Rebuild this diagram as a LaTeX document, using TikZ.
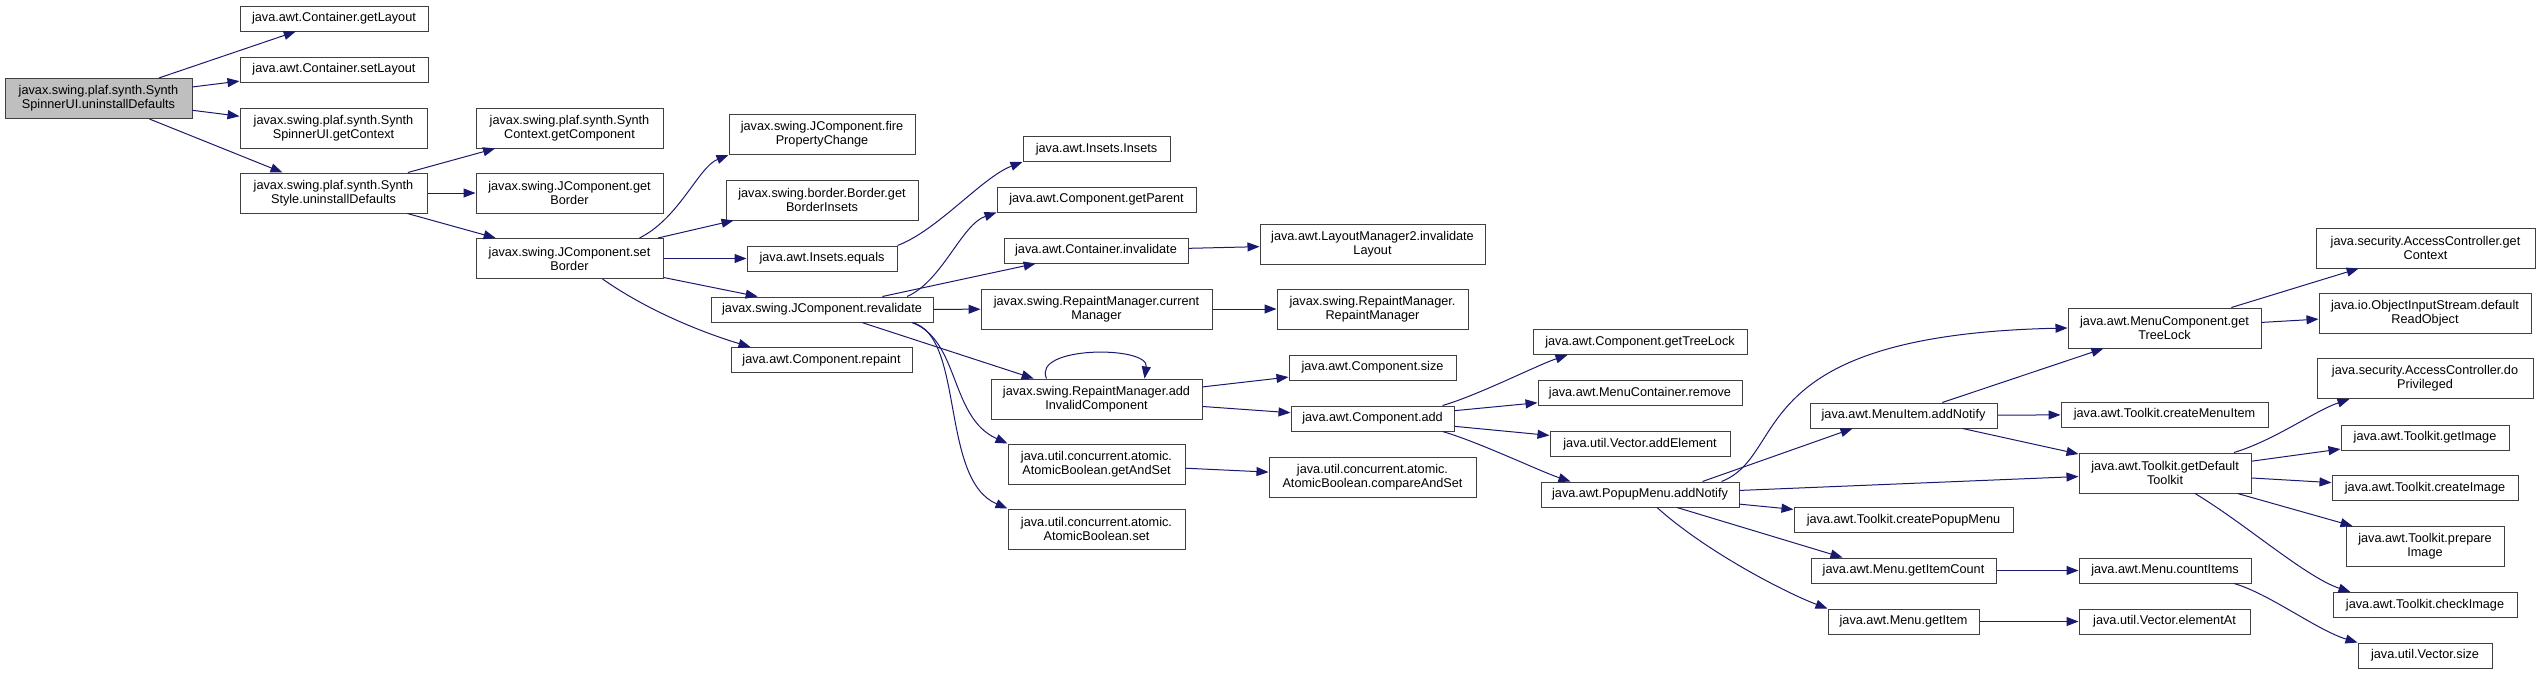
\documentclass[tikz,border=0pt]{standalone}
\usepackage{fontspec}
\setmainfont{Liberation Sans}
\usepackage{tikz}
\usetikzlibrary{arrows.meta}
\definecolor{midnight}{HTML}{191970}
\definecolor{rootgray}{HTML}{BFBFBF}
\tikzset {
  % boxed function style
  fn/.style = {draw=black!75, fill=white, line width=1pt, inner sep=0pt, align=center,
    font=\fontsize{12.7}{14}\selectfont},
  % the function whose calls are drawn
  rootfn/.style = {fn, fill=rootgray},
  % box heights for one or two lines of text
  oneline/.style = {minimum height=25pt},
  twoline/.style = {minimum height=40pt},
  % this is for the calls
  call/.style = {midnight, line width=1pt, -{Triangle[length=12pt,width=9pt]}},
}

\begin{document}
\begin{tikzpicture}[x=1pt, y=-1pt]
      \useasboundingbox (0,0) rectangle (2540,675);

      \node[rootfn, twoline, minimum width=187pt] (root) at (98.5,98.5) {javax.swing.plaf.synth.Synth\\SpinnerUI.uninstallDefaults};

      \node[fn, oneline, minimum width=188pt] (getLayout) at (334,18.5) {java.awt.Container.getLayout};
      \node[fn, oneline, minimum width=188pt] (setLayout) at (334,69.5) {java.awt.Container.setLayout};
      \node[fn, twoline, minimum width=187pt] (getContext) at (333.5,128) {javax.swing.plaf.synth.Synth\\SpinnerUI.getContext};
      \node[fn, twoline, minimum width=187pt] (synthStyle) at (333.5,193) {javax.swing.plaf.synth.Synth\\Style.uninstallDefaults};

      \node[fn, twoline, minimum width=187pt] (getComponent) at (569.5,128) {javax.swing.plaf.synth.Synth\\Context.getComponent};
      \node[fn, twoline, minimum width=187pt] (getBorder) at (569.5,193) {javax.swing.JComponent.get\\Border};
      \node[fn, twoline, minimum width=187pt] (setBorder) at (569.5,258.5) {javax.swing.JComponent.set\\Border};

      \node[fn, twoline, minimum width=186pt] (fireProp) at (822,134.5) {javax.swing.JComponent.fire\\PropertyChange};
      \node[fn, twoline, minimum width=192pt] (borderIns) at (822,200) {javax.swing.border.Border.get\\BorderInsets};
      \node[fn, oneline, minimum width=150pt] (insetsEq) at (822,258.5) {java.awt.Insets.equals};
      \node[fn, oneline, minimum width=222pt] (revalidate) at (822,309.5) {javax.swing.JComponent.revalidate};
      \node[fn, oneline, minimum width=181pt] (repaint) at (821.5,360) {java.awt.Component.repaint};

      \node[fn, oneline, minimum width=147pt] (insetsCtor) at (1096.5,149) {java.awt.Insets.Insets};
      \node[fn, oneline, minimum width=199pt] (getParent) at (1096.5,199.5) {java.awt.Component.getParent};
      \node[fn, oneline, minimum width=184pt] (contInval) at (1096,250.5) {java.awt.Container.invalidate};
      \node[fn, twoline, minimum width=231pt] (curMgr) at (1096.5,309) {javax.swing.RepaintManager.current\\Manager};
      \node[fn, twoline, minimum width=211pt] (addInval) at (1096.5,399) {javax.swing.RepaintManager.add\\InvalidComponent};
      \node[fn, twoline, minimum width=177pt] (getAndSet) at (1096.5,464) {java.util.concurrent.atomic.\\AtomicBoolean.getAndSet};
      \node[fn, twoline, minimum width=177pt] (abSet) at (1096.5,529) {java.util.concurrent.atomic.\\AtomicBoolean.set};

      \node[fn, twoline, minimum width=225pt] (invLayout) at (1372.5,244) {java.awt.LayoutManager2.invalidate\\Layout};
      \node[fn, twoline, minimum width=191pt] (rmCtor) at (1372.5,309) {javax.swing.RepaintManager.\\RepaintManager};
      \node[fn, oneline, minimum width=167pt] (compSize) at (1372.5,367.5) {java.awt.Component.size};
      \node[fn, oneline, minimum width=163pt] (compAdd) at (1372.5,418.5) {java.awt.Component.add};
      \node[fn, twoline, minimum width=207pt] (cmpSet) at (1372.5,477) {java.util.concurrent.atomic.\\AtomicBoolean.compareAndSet};

      \node[fn, oneline, minimum width=214pt] (treeLock) at (1640,342) {java.awt.Component.getTreeLock};
      \node[fn, oneline, minimum width=204pt] (mcRemove) at (1640,393) {java.awt.MenuContainer.remove};
      \node[fn, oneline, minimum width=180pt] (addElem) at (1640,444) {java.util.Vector.addElement};
      \node[fn, oneline, minimum width=198pt] (popupAdd) at (1640,494.5) {java.awt.PopupMenu.addNotify};

      \node[fn, oneline, minimum width=187pt] (miAdd) at (1903.5,415.5) {java.awt.MenuItem.addNotify};
      \node[fn, oneline, minimum width=219pt] (crPopup) at (1903.5,520) {java.awt.Toolkit.createPopupMenu};
      \node[fn, oneline, minimum width=185pt] (itemCount) at (1903.5,570.5) {java.awt.Menu.getItemCount};
      \node[fn, oneline, minimum width=151pt] (getItem) at (1903.5,621.5) {java.awt.Menu.getItem};

      \node[fn, twoline, minimum width=193pt] (mcTreeLock) at (2164.5,328) {java.awt.MenuComponent.get\\TreeLock};
      \node[fn, oneline, minimum width=207pt] (crMenuItem) at (2164.5,414.5) {java.awt.Toolkit.createMenuItem};
      \node[fn, twoline, minimum width=172pt] (defTk) at (2165,473) {java.awt.Toolkit.getDefault\\Toolkit};
      \node[fn, oneline, minimum width=172pt] (countItems) at (2165,570.5) {java.awt.Menu.countItems};
      \node[fn, oneline, minimum width=171pt] (elemAt) at (2164.5,621.5) {java.util.Vector.elementAt};

      \node[fn, twoline, minimum width=219pt] (acContext) at (2425.5,248) {java.security.AccessController.get\\Context};
      \node[fn, twoline, minimum width=212pt] (readObj) at (2425,313) {java.io.ObjectInputStream.default\\ReadObject};
      \node[fn, twoline, minimum width=216pt] (doPriv) at (2425,378.5) {java.security.AccessController.do\\Privileged};
      \node[fn, oneline, minimum width=168pt] (getImage) at (2425,437.5) {java.awt.Toolkit.getImage};
      \node[fn, oneline, minimum width=186pt] (crImage) at (2425,488) {java.awt.Toolkit.createImage};
      \node[fn, twoline, minimum width=158pt] (prepImage) at (2425,546.5) {java.awt.Toolkit.prepare\\Image};
      \node[fn, oneline, minimum width=184pt] (checkImage) at (2425,605) {java.awt.Toolkit.checkImage};
      \node[fn, oneline, minimum width=134pt] (vecSize) at (2425,655.5) {java.util.Vector.size};

      % calls from the first columns
      \draw[call] (root) -- (getLayout);
      \draw[call] (root) -- (setLayout);
      \draw[call] (root) -- (getContext);
      \draw[call] (root) -- (synthStyle);

      \draw[call] (synthStyle) -- (getComponent);
      \draw[call] (synthStyle) -- (getBorder);
      \draw[call] (synthStyle) -- (setBorder);

      \draw[call] ([xshift=70pt]setBorder.north) .. controls +(40,-20) and +(-30,12) .. (fireProp.south west);
      \draw[call] (setBorder) -- (borderIns);
      \draw[call] (setBorder) -- (insetsEq);
      \draw[call] (setBorder) -- (revalidate);
      \draw[call] ([xshift=33pt]setBorder.south) .. controls +(50,35) and +(-40,-12) .. ([xshift=20pt]repaint.north west);

      \draw[call] (insetsEq.north east) .. controls +(40,-15) and +(-40,15) .. (insetsCtor.south west);

      % revalidate
      \draw[call] ([xshift=85pt]revalidate.north) .. controls +(35,-15) and +(-35,12) .. (getParent.south west);
      \draw[call] (revalidate) -- (contInval);
      \draw[call] (revalidate) -- (curMgr);
      \draw[call] (revalidate) -- (addInval);
      \draw[call] ([xshift=90pt]revalidate.south) .. controls +(48,18) and +(-58,-26) .. (getAndSet.north west);
      \draw[call] ([xshift=90pt]revalidate.south) .. controls +(53,13) and +(-68,-29) .. (abSet.north west);

      \draw[call] (contInval) -- (invLayout);
      \draw[call] (curMgr) -- (rmCtor);
      \draw[call] ([xshift=-50pt]addInval.north) .. controls +(-15,-33) and +(5,-33) .. ([xshift=48pt]addInval.north);
      \draw[call] (addInval) -- (compSize);
      \draw[call] (addInval) -- (compAdd);
      \draw[call] (getAndSet) -- (cmpSet);

      % Component.add and the menus
      \draw[call] ([xshift=-12pt]compAdd.north east) .. controls +(35,-10) and +(-30,10) .. ([xshift=35pt]treeLock.south west);
      \draw[call] (compAdd) -- (mcRemove);
      \draw[call] (compAdd) -- (addElem);
      \draw[call] ([xshift=-12pt]compAdd.south east) .. controls +(35,10) and +(-30,-10) .. ([xshift=30pt]popupAdd.north west);

      \draw[call] ([xshift=-18pt]popupAdd.north east) .. controls +(69,-27) and +(-328,7) .. (mcTreeLock.west);
      \draw[call] ([xshift=-37pt]popupAdd.north east) -- ([xshift=43pt]miAdd.south west);
      \draw[call] (popupAdd) -- (defTk);
      \draw[call] (popupAdd) -- (crPopup);
      \draw[call] ([xshift=37pt]popupAdd.south) -- ([xshift=32pt]itemCount.north west);
      \draw[call] ([xshift=17pt]popupAdd.south) .. controls +(50,45) and +(-40,-15) .. (getItem.north west);

      \draw[call] (miAdd) -- (mcTreeLock);
      \draw[call] (miAdd) -- (crMenuItem);
      \draw[call] (miAdd) -- (defTk);
      \draw[call] (itemCount) -- (countItems);
      \draw[call] (getItem) -- (elemAt);

      % last column
      \draw[call] (mcTreeLock) -- (acContext);
      \draw[call] (mcTreeLock) -- (readObj);

      \draw[call] ([xshift=69pt]defTk.north) .. controls +(40,-12) and +(-35,12) .. ([xshift=33pt]doPriv.south west);
      \draw[call] (defTk) -- (getImage);
      \draw[call] (defTk) -- (crImage);
      \draw[call] (defTk) -- (prepImage);
      \draw[call] ([xshift=30pt]defTk.south) .. controls +(50,30) and +(-45,-15) .. ([xshift=18pt]checkImage.north west);
      \draw[call] ([xshift=69pt]countItems.south) .. controls +(35,10) and +(-40,-12) .. (vecSize.north west);
    \end{tikzpicture}
\end{document}
